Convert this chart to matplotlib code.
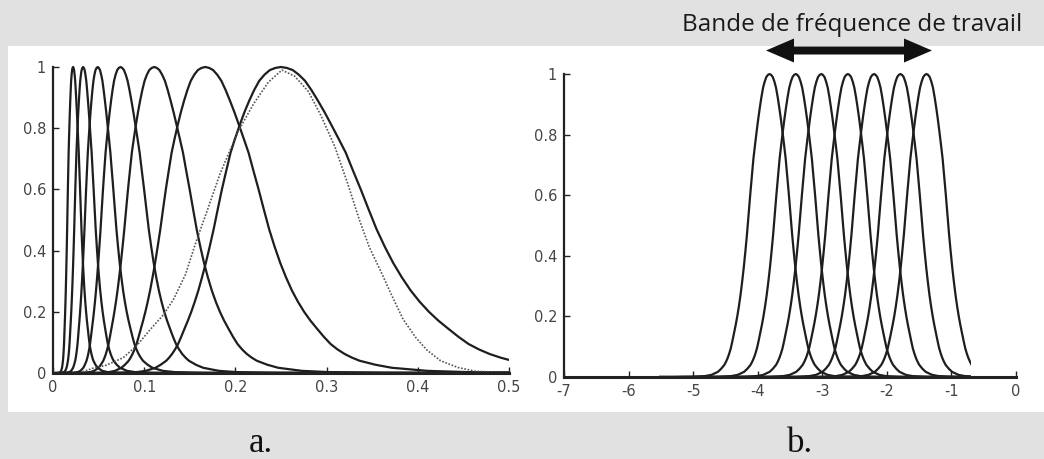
import numpy as np
import matplotlib
matplotlib.use("Agg")
import matplotlib.pyplot as plt
from matplotlib.patches import Rectangle, FancyArrow

# centre frequencies of the 7 filters (normalised frequency)
centre_freqs = [0.022, 0.033, 0.049, 0.074, 0.111, 0.167, 0.25]

# shape of one filter: response vs distance from its centre in ln(frequency)
shape_offsets = [0.0, 0.025, 0.05, 0.075, 0.10, 0.125, 0.15, 0.175, 0.20, 0.225,
                 0.25, 0.275, 0.30, 0.325, 0.35, 0.375, 0.40, 0.425, 0.45, 0.475,
                 0.50, 0.525, 0.55, 0.575, 0.60, 0.625, 0.65, 0.675, 0.70, 0.75,
                 0.80, 0.90, 1.00, 1.20, 1.50, 2.00, 3.00]
shape_response = [1.0, 0.997, 0.99, 0.975, 0.955, 0.925, 0.89, 0.852, 0.81, 0.766,
                  0.72, 0.66, 0.60, 0.535, 0.47, 0.413, 0.36, 0.313, 0.27, 0.233,
                  0.20, 0.171, 0.145, 0.119, 0.095, 0.077, 0.062, 0.05, 0.040, 0.027,
                  0.017, 0.007, 0.003, 0.001, 0.0, 0.0, 0.0]

# dotted curve of panel a
dotted_freq = [0.029, 0.043, 0.058, 0.077, 0.092, 0.106, 0.121, 0.132, 0.145, 0.157,
               0.169, 0.183, 0.203, 0.220, 0.236, 0.251, 0.265, 0.280, 0.294, 0.309,
               0.323, 0.336, 0.347, 0.359, 0.372, 0.384, 0.398, 0.410, 0.425, 0.444,
               0.463, 0.500]
dotted_resp = [0.0, 0.015, 0.025, 0.05, 0.09, 0.14, 0.19, 0.24, 0.32, 0.43,
               0.53, 0.65, 0.79, 0.88, 0.95, 0.99, 0.97, 0.92, 0.84, 0.74,
               0.62, 0.50, 0.41, 0.335, 0.25, 0.175, 0.115, 0.075, 0.04, 0.018,
               0.006, 0.0]

# frequency range covered by the filters
freq_low, freq_high = 0.004, 0.5

y_ticks = [0, 0.2, 0.4, 0.6, 0.8, 1]
y_labels = ["0", "0.2", "0.4", "0.6", "0.8", "1"]
a_xticks = [0, 0.1, 0.2, 0.3, 0.4, 0.5]
a_xlabels = ["0", "0.1", "0.2", "0.3", "0.4", "0.5"]
b_xticks = [-7, -6, -5, -4, -3, -2, -1, 0]
b_xlabels = ["-7", "-6", "-5", "-4", "-3", "-2", "-1", "0"]

heading = "Bande de fréquence de travail"
panel_names = ["a.", "b."]

W, H = 1044, 459
fig = plt.figure(figsize=(W / 100, H / 100), dpi=100, facecolor="#e1e1e1")

# white band holding both plots
fig.patches.append(Rectangle((8 / W, (H - 412) / H), (W - 8) / W, 366 / H,
                             transform=fig.transFigure, facecolor="white",
                             edgecolor="none", zorder=-1))

ax_a = fig.add_axes([53 / W, (H - 373) / H, 456 / W, 306 / H])
ax_b = fig.add_axes([564 / W, (H - 377) / H, 452 / W, 303 / H])

# full symmetric filter shape
offs = np.array(shape_offsets)
resp = np.array(shape_response)
full_off = np.concatenate([-offs[::-1], offs[1:]])
full_resp = np.concatenate([resp[::-1], resp[1:]])

line_kw = dict(color="#1e1e1e", lw=1.6)

clip_a = Rectangle((0, -0.1), freq_high, 1.3, transform=ax_a.transData)
clip_b = Rectangle((np.log(freq_low), -0.1), np.log(freq_high) - np.log(freq_low), 1.3,
                   transform=ax_b.transData)

for c in centre_freqs:
    ln_f = np.log(c) + full_off
    la, = ax_a.plot(np.exp(ln_f), full_resp, **line_kw)
    la.set_clip_path(clip_a)
    lb, = ax_b.plot(ln_f, full_resp, **line_kw)
    lb.set_clip_path(clip_b)

ax_a.plot(dotted_freq, dotted_resp, color="#555555", lw=1.2, ls=(0, (1, 1)),
          clip_on=False)

ax_a.set_xlim(0, 0.5)
ax_b.set_xlim(-7, 0)
for ax, xt, xl in [(ax_a, a_xticks, a_xlabels), (ax_b, b_xticks, b_xlabels)]:
    ax.set_ylim(0, 1)
    ax.set_facecolor("none")
    ax.set_xticks(xt)
    ax.set_xticklabels(xl)
    ax.set_yticks(y_ticks)
    ax.set_yticklabels(y_labels)
    ax.spines["top"].set_visible(False)
    ax.spines["right"].set_visible(False)
    ax.spines["left"].set_linewidth(1.6)
    ax.spines["bottom"].set_linewidth(2.2)
    ax.spines["left"].set_color("#222222")
    ax.spines["bottom"].set_color("#222222")
    ax.tick_params(direction="in", length=4, width=1, color="#222222",
                   labelsize=10.5, labelcolor="#454545", pad=5)
    for lab in ax.get_xticklabels() + ax.get_yticklabels():
        lab.set_family("DejaVu Sans")

# overlay in pixel coordinates for heading, arrow and panel names
ov = fig.add_axes([0, 0, 1, 1], zorder=5)
ov.set_xlim(0, W)
ov.set_ylim(H, 0)
ov.axis("off")
ov.text(1022, 31, heading, ha="right", va="baseline", fontsize=17.5,
        family="Open Sans", color="#1a1a1a")
for dx in (83, -83):
    ov.add_patch(FancyArrow(849, 50.5, dx, 0, width=8, head_width=24,
                            head_length=28, length_includes_head=True,
                            color="#111111", lw=0))
ov.text(261, 452, panel_names[0], ha="center", va="baseline", fontsize=25,
        family="Liberation Serif", color="#111111")
ov.text(800, 452, panel_names[1], ha="center", va="baseline", fontsize=25,
        family="Liberation Serif", color="#111111")

fig.savefig("out.png", dpi=100, facecolor=fig.get_facecolor())
